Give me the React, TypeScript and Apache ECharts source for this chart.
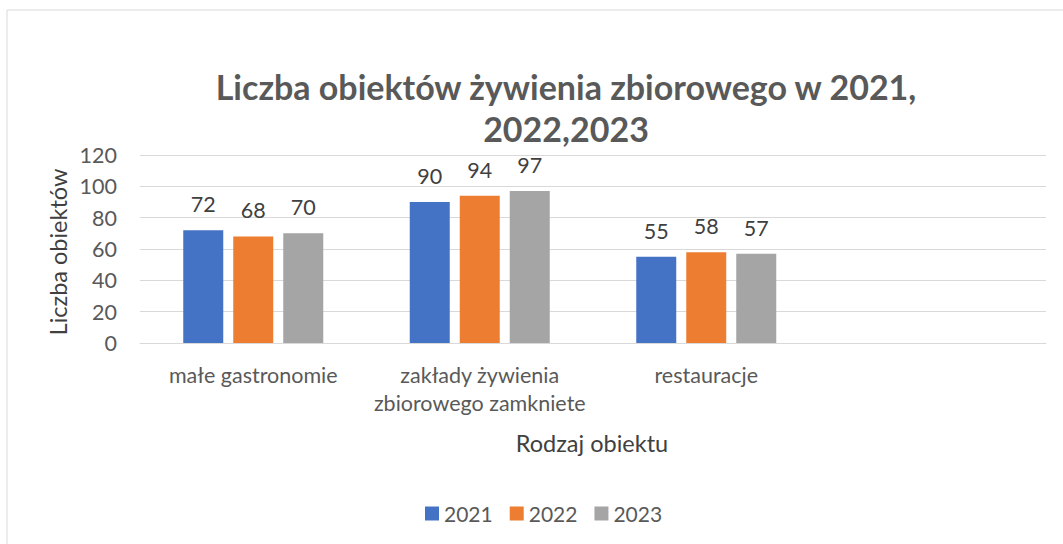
import React, { useEffect, useRef } from "react";
import * as echarts from "echarts";

const categories: string[] = [
  "małe gastronomie",
  "zakłady żywienia\nzbiorowego zamkniete",
  "restauracje",
  "",
];
const seriesNames: string[] = ["2021", "2022", "2023"];
const values2021: (number | string)[] = [72, 90, 55, "-"];
const values2022: (number | string)[] = [68, 94, 58, "-"];
const values2023: (number | string)[] = [70, 97, 57, "-"];
const colors: string[] = ["#4472C4", "#ED7D31", "#A5A5A5"];
const chartTitle = "Liczba obiektów żywienia zbiorowego w 2021,\n2022,2023";
const xTitle = "Rodzaj obiektu";
const yTitle = "Liczba obiektów";

const FONT = "Lato, 'Open Sans', sans-serif";

export default function App() {
  const ref = useRef<HTMLDivElement>(null);
  useEffect(() => {
    document.body.style.margin = "0";
    if (!ref.current) return;
    const chart = echarts.init(ref.current, undefined, { renderer: "svg" });
    const allValues = [values2021, values2022, values2023];
    chart.setOption({
      animation: false,
      backgroundColor: "#ffffff",
      textStyle: { fontFamily: FONT },
      grid: { left: 140, right: 17, top: 155, bottom: 201, containLabel: false },
      legend: {
        data: seriesNames,
        left: 420,
        top: 498,
        icon: "rect",
        itemWidth: 14,
        itemHeight: 14,
        itemGap: 17,
        textStyle: { fontSize: 21, color: "#595959", fontFamily: FONT },
      },
      xAxis: {
        type: "category",
        data: categories,
        axisLine: { lineStyle: { color: "#D9D9D9", width: 1 } },
        axisTick: { show: false },
        axisLabel: {
          interval: 0,
          margin: 18,
          fontSize: 21.5,
          lineHeight: 28,
          color: "#595959",
          fontFamily: FONT,
        },
      },
      yAxis: {
        type: "value",
        min: 0,
        max: 120,
        interval: 20,
        axisLine: { show: false },
        axisTick: { show: false },
        splitLine: { lineStyle: { color: "#D9D9D9", width: 1 } },
        axisLabel: { margin: 23, fontSize: 21.5, color: "#595959", fontFamily: FONT },
      },
      graphic: [
        {
          type: "rect",
          shape: { x: 7, y: 10, width: 1100, height: 600 },
          style: { fill: "none", stroke: "#D9D9D9", lineWidth: 1 },
          silent: true,
        },
        {
          type: "text",
          x: 566,
          y: 107,
          style: {
            text: chartTitle,
            fontSize: 34,
            fontWeight: "bold",
            lineHeight: 42,
            fill: "#595959",
            align: "center",
            verticalAlign: "middle",
            fontFamily: FONT,
          },
        },
        {
          type: "text",
          x: 592,
          y: 443,
          style: {
            text: xTitle,
            fontSize: 23.5,
            fill: "#404040",
            align: "center",
            verticalAlign: "middle",
            fontFamily: FONT,
          },
        },
        {
          type: "text",
          x: 58,
          y: 252,
          rotation: Math.PI / 2,
          style: {
            text: yTitle,
            fontSize: 23.5,
            fill: "#404040",
            align: "center",
            verticalAlign: "middle",
            fontFamily: FONT,
          },
        },
      ],
      series: seriesNames.map((name, i) => ({
        name,
        type: "bar",
        data: allValues[i],
        barWidth: 40,
        barGap: "25%",
        itemStyle: { color: colors[i] },
        label: {
          show: true,
          position: "top",
          distance: 15,
          fontSize: 21.5,
          color: "#404040",
          fontFamily: FONT,
        },
      })),
    });
    return () => chart.dispose();
  }, []);
  return <div ref={ref} style={{ width: 1063, height: 544 }} />;
}
